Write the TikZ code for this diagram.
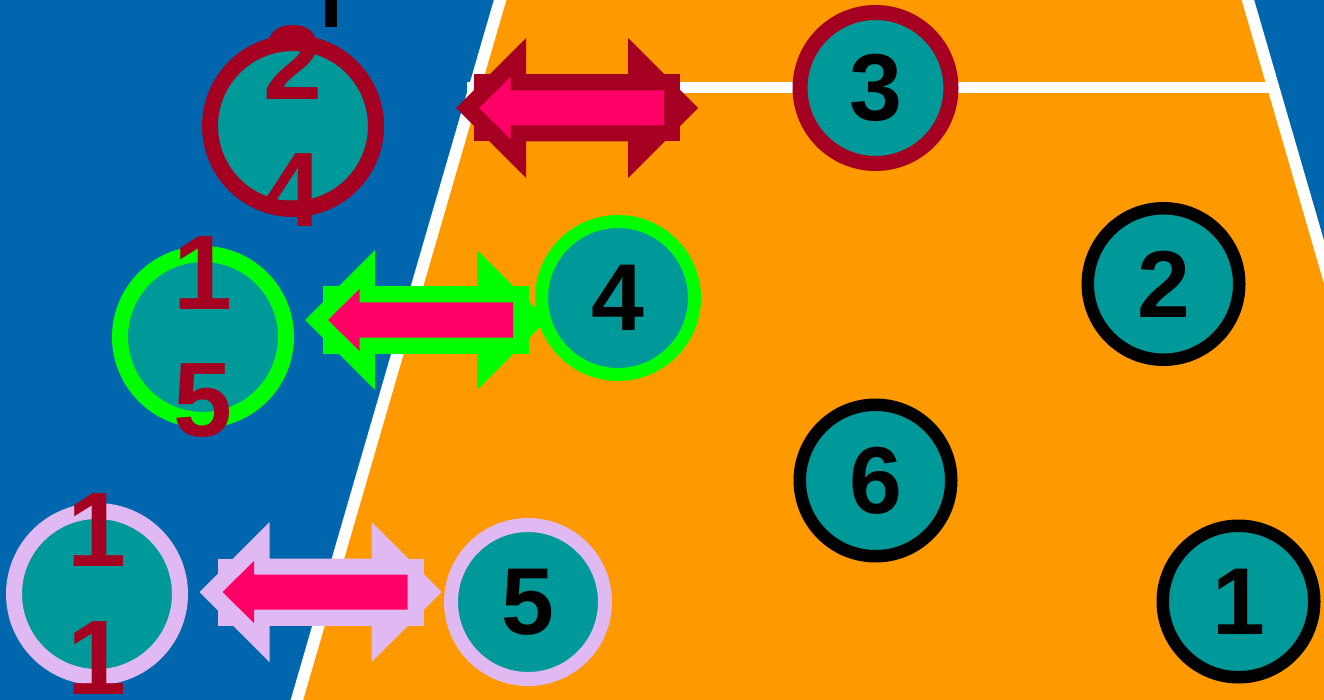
\documentclass[tikz,border=0pt]{standalone}
\usepackage{fontspec}
\setmainfont{Liberation Sans}
\definecolor{courtblue}{HTML}{0066AD}
\definecolor{courtorange}{HTML}{FF9900}
\definecolor{teal}{HTML}{009999}
\definecolor{darkred}{HTML}{A50021}
\definecolor{hotpink}{HTML}{FF0066}
\definecolor{brightgreen}{HTML}{00FF00}
\definecolor{lavender}{HTML}{E0B8F2}
\tikzset{
  player/.style={circle, fill=teal, inner sep=0pt, text=black,
    font=\fontsize{95}{95}\selectfont\bfseries},
  rightplayer/.style={player, draw=black, line width=12.5pt, minimum size=151.5pt},
  leftplayer/.style={player, line width=16pt, minimum size=166pt},
  leftlabel/.style={inner sep=0pt, text=darkred, font=\fontsize{106}{106}\selectfont\bfseries},
  courtline/.style={draw=white, line width=12pt},
  pics/swaparrow/.style={code={
    \fill[#1] (-121,0) -- (-51,-70) -- (-51,-33.5) -- (51,-33.5) -- (51,-70) -- (121,0)
      -- (51,70) -- (51,33.5) -- (-51,33.5) -- (-51,70) -- cycle;
    \fill[#1] (-103,-33.5) rectangle (103,33.5);
    \fill[hotpink] (-98,0) -- (-66.5,-31) -- (-66.5,-17.5) -- (87,-17.5) -- (87,17.5)
      -- (-66.5,17.5) -- (-66.5,31) -- cycle;
  }}
}
\begin{document}
\begin{tikzpicture}[x=1pt, y=-1pt]
\useasboundingbox (0,0) rectangle (1324,700);
% court
\fill[courtblue] (0,0) rectangle (1324,700);
\fill[courtorange] (503,0) -- (1245,0) -- (1454,700) -- (294,700) -- cycle;
\draw[courtline] (503,-10) -- (294,710);
\draw[courtline] (1245,-10) -- (1454,710);
\draw[draw=white, line width=11pt] (467,87.5) -- (1270,87.5);
% cut-off black mark at the top
\fill[black] (325,0) rectangle (337,27);
% swap arrows
\pic at (577,108) {swaparrow=darkred};
\pic at (426,320) {swaparrow=brightgreen};
\pic at (320.5,592) {swaparrow=lavender};
% right-side players
\node[player, draw=darkred, line width=15pt, minimum size=151pt] (p3) at (875.5,88) {3};
\node[rightplayer] (p2) at (1163.5,284) {2};
\node[rightplayer] (p6) at (875.5,480.5) {6};
\node[rightplayer] (p1) at (1238.5,601.5) {1};
\node[player, draw=brightgreen, line width=13pt, minimum size=153pt] (p4) at (618,298) {4};
\node[player, draw=lavender, line width=14pt, minimum size=154pt] (p5) at (528,602) {5};
% left-side players
\node[leftplayer, draw=darkred] (q24) at (293,126) {};
\node[leftplayer, draw=brightgreen] (q15) at (203,337) {};
\node[leftplayer, draw=lavender] (q11) at (97,594) {};
\node[leftlabel] (q24a) at (293,62) {2};
\node[leftlabel] (q24b) at (293,190) {4};
\node[leftlabel] (q15a) at (203,273) {1};
\node[leftlabel] (q15b) at (203,401) {5};
\node[leftlabel] (q11a) at (97,530) {1};
\node[leftlabel] (q11b) at (97,658) {1};
\end{tikzpicture}
\end{document}
